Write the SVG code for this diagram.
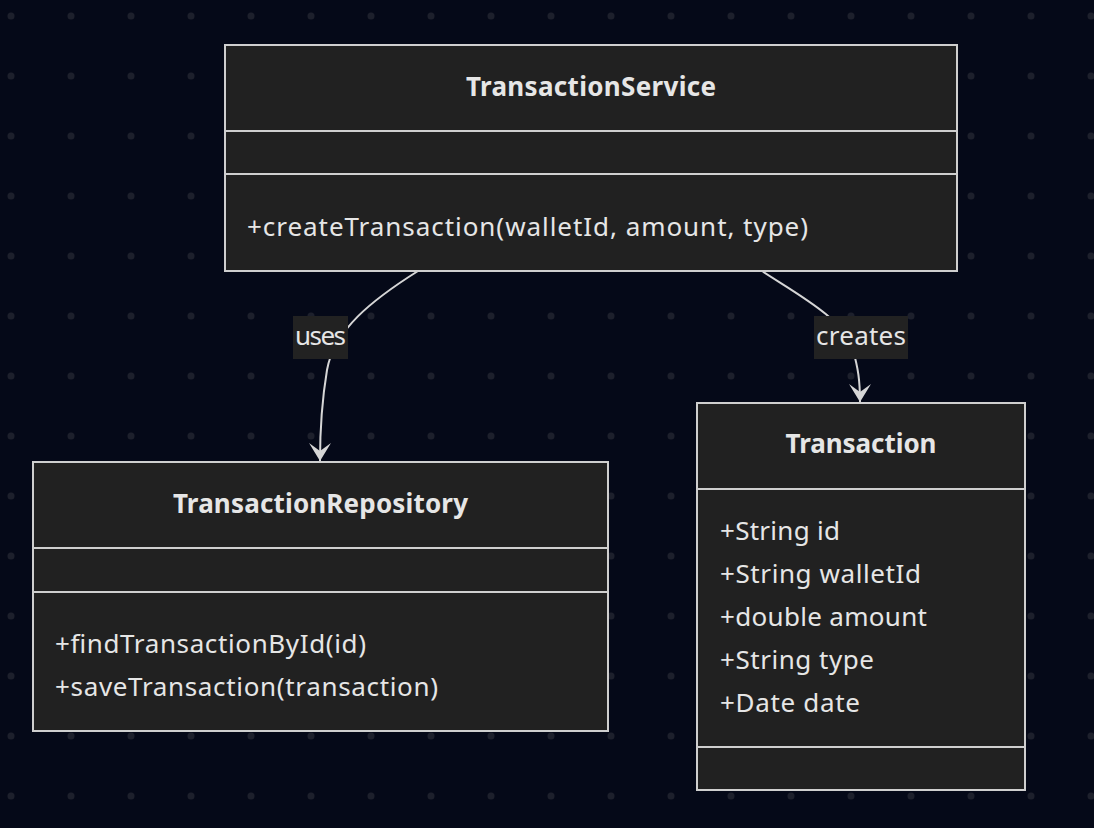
<svg xmlns="http://www.w3.org/2000/svg" width="1094" height="828" viewBox="0 0 1094 828">
<style>
.box{fill:#212121;stroke:#cfcfcf;stroke-width:2}
.div{stroke:#cfcfcf;stroke-width:2}
.t{font-family:"Noto Sans","Open Sans",sans-serif;font-size:26px;fill:#e6e6e6}
.b{font-weight:bold;text-anchor:middle}
.edge{fill:none;stroke:#d6d6d6;stroke-width:2}
.lbl{fill:#222222}
</style>
<defs>
<pattern id="dots" x="0" y="0" width="60" height="60" patternUnits="userSpaceOnUse">
<circle cx="11" cy="16" r="3.5" fill="#1d202c"/>
</pattern>
<marker id="arr" markerUnits="userSpaceOnUse" markerWidth="20" markerHeight="24" refX="18" refY="11" orient="auto" viewBox="0 0 20 22">
<path d="M0,0 L18,11 L0,22 L8,11 z" fill="#d6d6d6"/>
</marker>
</defs>
<rect width="1094" height="828" fill="#050918"/>
<rect width="1094" height="828" fill="url(#dots)"/>
<g id="connectors">
<path class="edge" d="M418,271 C372,300 334,330 327,370 C322,400 320,425 320,461" marker-end="url(#arr)"/>
<path class="edge" d="M762,271 C800,296 843,318 853,350 C858,368 860,380 860,402" marker-end="url(#arr)"/>
<g id="label-uses">
<rect class="lbl" x="293" y="316" width="55" height="43"/>
<text class="t" x="320.5" y="345" text-anchor="middle" textLength="51">uses</text>
</g>
<g id="label-creates">
<rect class="lbl" x="814" y="316" width="94" height="43"/>
<text class="t" x="861" y="345" text-anchor="middle" textLength="90">creates</text>
</g>
</g>
<g id="TransactionService">
<rect class="box" x="225" y="45" width="732" height="226"/>
<line class="div" x1="225" y1="131" x2="957" y2="131"/>
<line class="div" x1="225" y1="174" x2="957" y2="174"/>
<text class="t b" x="591" y="96" textLength="250">TransactionService</text>
<text class="t" x="247" y="236" textLength="561">+createTransaction(walletId, amount, type)</text>
</g>
<g id="TransactionRepository">
<rect class="box" x="33" y="462" width="575" height="269"/>
<line class="div" x1="33" y1="548" x2="608" y2="548"/>
<line class="div" x1="33" y1="592" x2="608" y2="592"/>
<text class="t b" x="320.5" y="513" textLength="295">TransactionRepository</text>
<text class="t" x="55" y="653" textLength="311">+findTransactionById(id)</text>
<text class="t" x="55" y="696" textLength="383">+saveTransaction(transaction)</text>
</g>
<g id="Transaction">
<rect class="box" x="697" y="403" width="328" height="387"/>
<line class="div" x1="697" y1="489" x2="1025" y2="489"/>
<line class="div" x1="697" y1="747" x2="1025" y2="747"/>
<text class="t b" x="861" y="453" textLength="151">Transaction</text>
<text class="t" x="720" y="540" textLength="120">+String id</text>
<text class="t" x="720" y="583" textLength="201">+String walletId</text>
<text class="t" x="720" y="626" textLength="207">+double amount</text>
<text class="t" x="720" y="669" textLength="154">+String type</text>
<text class="t" x="720" y="712" textLength="140">+Date date</text>
</g>
</svg>
